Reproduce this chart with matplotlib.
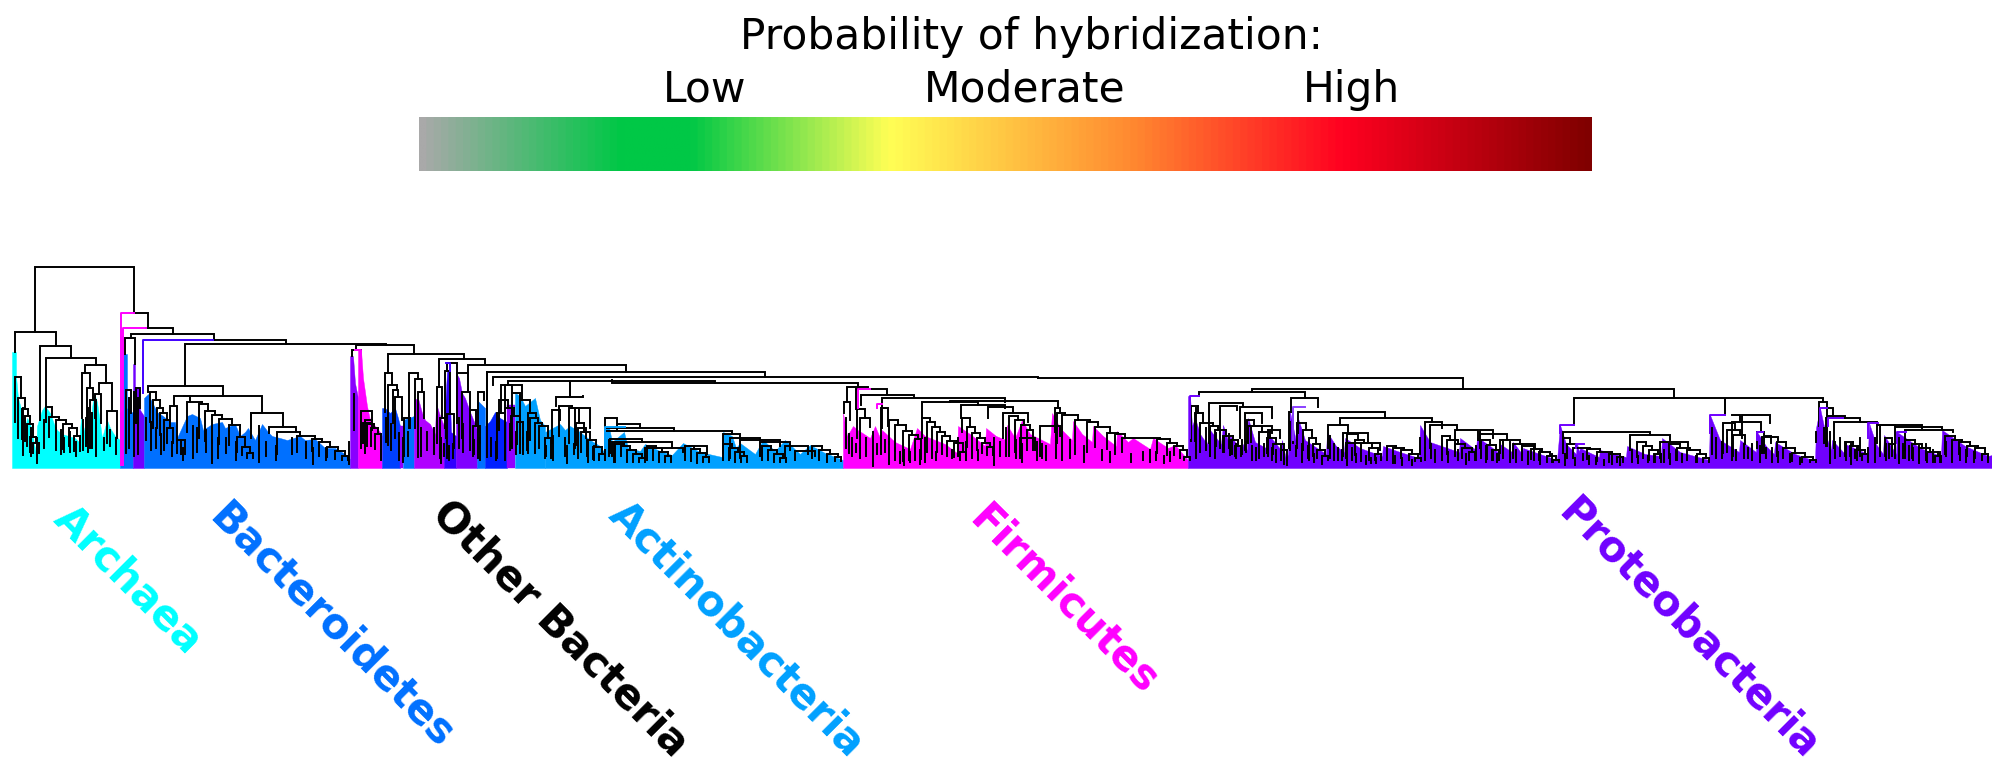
import matplotlib
matplotlib.use("Agg")
import matplotlib.pyplot as plt
from matplotlib.collections import LineCollection
from matplotlib.colors import LinearSegmentedColormap
import numpy as np

W, H = 1992, 765
BASE_PX = 468
TREE_TOP = 260
STUB = 3
LINE = 1.4

title = "Probability of hybridization:"
scale_labels = ["Low", "Moderate", "High"]
clade_labels = ["Archaea", "Bacteroidetes", "Other Bacteria", "Actinobacteria", "Firmicutes", "Proteobacteria"]
clade_colors = ["#00FFFF", "#0070FF", "#000000", "#00A0FF", "#FF00FF", "#7000FF"]

ramp_pos = [0.0, 0.17, 0.23, 0.40, 0.61, 0.79, 1.0]
ramp_col = ["#A9A9A9", "#00C846", "#00C846", "#FFFF55", "#FF8830", "#FF0020", "#800000"]

# (x, height) silhouettes of the coloured leaf mass
archaea = [(12,116),(16,116),(16,92),(18,70),(22,56),(24,34),(27,50),(30,45),(33,30),(36,14),(37,42),(42,58),(45,62),(50,55),(54,44),(57,38),(62,34),(75,30),(79,26),(81,50),(85,35),(90,26),(92,60),(94,75),(97,66),(100,45),(102,30),(107,48),(110,40),(115,32),(120,28)]
bact_a = [(120,55),(123,58),(123,114),(127,114),(127,60),(133,55)]
bact_v = [(133,104),(135,104),(135,60),(136,80),(139,80),(140,58),(144,52)]
bacteroidetes = [(144,70),(148,74),(152,66),(157,56),(163,52),(170,46),(175,46),(177,30),(187,52),(192,54),(200,50),(203,38),(212,44),(222,46),(225,40),(235,44),(240,32),(245,36),(248,40),(255,28),(262,44),(268,36),(272,32),(280,30),(287,28),(300,32),(305,28),(315,29),(325,20),(335,20),(345,14),(350,9)]
oth1 = [(350,112),(353,112),(355,85),(358,70)]
oth2 = [(358,118),(361,118),(363,90),(367,62),(370,48),(375,42),(380,36),(382,32)]
oth3 = [(382,60),(385,60),(390,55),(395,60),(398,50),(400,42)]
oth4 = [(400,42),(403,42)]
oth5 = [(403,48),(414,52)]
oth6 = [(414,68),(418,70),(422,55),(425,48),(430,44),(435,34),(436,65),(440,52),(444,42)]
oth7 = [(444,38),(447,97),(449,97),(451,36),(456,32)]
oth8 = [(456,95),(459,90),(462,75),(465,70),(470,56),(475,44),(477,38)]
oth9 = [(477,68),(485,60)]
oth10 = [(485,42),(490,47),(495,56),(500,50),(507,46)]
oth11 = [(507,63),(515,63)]
actino1 = [(515,75),(520,72),(525,62),(530,66),(535,70),(540,48),(545,42)]
actino2 = [(545,36),(560,44),(565,38),(570,42),(580,36),(590,28),(600,22),(604,16),(605,41),(609,41),(612,26),(624,36),(628,20),(640,17),(645,24),(660,17),(672,13),(683,25),(700,16),(722,11),(723,36),(732,32),(736,20),(740,25),(755,14),(763,28),(775,17),(785,28),(800,14),(810,23),(825,15),(843,8)]
firmicutes = [(843,55),(847,32),(853,42),(860,36),(861,36),(870,30),(875,42),(880,30),(882,38),(895,26),(910,19),(917,40),(925,32),(945,24),(957,15),(958,42),(970,34),(985,22),(986,40),(996,32),(1006,28),(1007,43),(1015,30),(1022,48),(1030,34),(1050,24),(1052,55),(1060,40),(1072,28),(1073,47),(1082,34),(1092,26),(1093,42),(1103,32),(1116,22),(1117,37),(1128,26),(1133,30),(1150,19),(1153,30),(1168,20),(1175,23),(1188,8)]
proteo = [(1188,72),(1190,72),(1192,42),(1195,50),(1200,34),(1207,24),(1210,38),(1221,24),(1223,43),(1229,24),(1230,32),(1242,18),(1243,24),(1247,18),(1248,50),(1255,26),(1266,20),(1268,34),(1281,18),(1282,28),(1286,8),(1288,14),(1290,56),(1296,26),(1297,53),(1305,28),(1326,14),(1327,36),(1336,22),(1344,16),(1345,30),(1360,20),(1382,12),(1383,22),(1400,16),(1419,10),(1420,43),(1430,26),(1459,16),(1460,30),(1476,18),(1477,31),(1490,22),(1499,15),(1500,24),(1512,16),(1513,26),(1522,14),(1523,20),(1557,8),(1560,43),(1566,24),(1576,14),(1577,25),(1579,16),(1580,20),(1599,11),(1600,18),(1626,11),(1627,22),(1645,14),(1661,12),(1662,30),(1680,16),(1709,8),(1710,53),(1720,28),(1739,16),(1740,28),(1756,16),(1757,36),(1766,22),(1774,14),(1775,26),(1795,14),(1815,7),(1816,40),(1820,60),(1826,32),(1831,18),(1832,28),(1844,15),(1845,24),(1868,14),(1869,45),(1876,24),(1883,14),(1884,33),(1896,14),(1897,36),(1920,20),(1941,12),(1942,38),(1965,22),(1988,12),(1992,13)]
silhouettes = [
    (archaea,"#00FFFF"),(bact_a,"#0070FF"),(bact_v,"#7000FF"),(bacteroidetes,"#0070FF"),
    (oth1,"#8A00FF"),(oth2,"#FF00FF"),(oth3,"#0040FF"),(oth4,"#9000FF"),(oth5,"#0070FF"),
    (oth6,"#B000FF"),(oth7,"#3000FF"),(oth8,"#8000FF"),(oth9,"#0070FF"),(oth10,"#0020FF"),
    (oth11,"#9000FF"),(actino1,"#00A0FF"),(actino2,"#00A0FF"),(firmicutes,"#FF00FF"),(proteo,"#7000FF"),
]

# dendrogram joins: left x, right x, join height, left child height, right child height
links_black = [
 (35,134,201,136,155),(15,56,136,116,122),(40,71,122,48,110),(46,96,110,61,103),(85,106,103,95,85),
 (82,90,95,50,80),(87,93,80,25,68),(99,112,85,74,57),(95,101,74,50,45),(107,117,57,25,30),(90,96,68,20,40),
 (134,148,155,155,140),(146,173,140,140,134),(131,214,134,130,128),(125,135,130,114,104),(213,286,128,128,124),
 (185,386,124,82,123),(148,223,82,76,72),(174,262,72,62,55),(170,177,62,40,28),(177,185,28,15,14),
 (126,131,78,15,55),(136,140,80,45,60),
 (184,190,72,72,66),(251,283,55,30,41),(269,296,41,35,36),(251,262,55,40,55),
 (356,414,123,118,114),(352,361,118,112,118),(361,372,57,20,48),(365,372,48,15,38),
 (388,464,114,95,109),(385,392,95,56,83),(388,397,83,23,78),(393,398,78,45,71),(395,402,71,30,48),
 (409,418,95,40,89),(415,422,89,40,76),(418,424,76,11,50),(404,410,50,12,40),
 (439,485,109,81,105),(437,442,81,25,50),(440,446,50,10,30),(447,457,105,97,95),(445,450,97,40,54),(447,454,54,10,20),
 (457,468,95,45,76),(462,470,76,30,58),(470,476,58,18,42),(473,480,42,12,25),
 (468,626,103,76,96),(478,484,76,10,68),(487,765,96,11,91),(493,1038,91,83,90),(501,522,83,55,68),(497,505,55,10,46),
 (508,715,87,83,85),(505,512,83,40,75),(512,520,75,20,68),(520,530,68,15,55),(528,536,55,15,50),
 (556,583,71,62,72),(570,570,87,71,71),(552,560,58,25,48),(575,590,60,20,40),(578,586,40,10,30),
 (612,858,85,88,81),(605,617,50,30,45),(617,640,44,38,40),(605,674,40,38,37),(605,732,37,30,34),(723,740,34,15,28),
 (610,642,29,15,26),(612,672,26,12,20),(645,683,20,10,16),(685,707,22,12,14),
 (730,760,30,10,28),(740,780,28,10,22),(760,790,26,12,18),(785,808,22,10,14),(795,815,17,8,12),
 (1038,1463,90,90,79),(844,850,66,55,48),(847,868,81,66,79),(856,887,79,59,73),
 (857,865,59,30,50),(860,870,50,20,41),(861,914,73,63,71),(882,1005,70,40,66),(881,888,60,20,42),
 (922,978,66,50,63),(950,1058,67,66,60),(961,1005,63,50,60),
 (988,1013,61,50,55),(1003,1028,55,30,46),(1040,1060,42,12,32),(1020,1035,30,10,18),
 (1252,1674,79,76,70),(1199,1305,76,72,70),(1209,1243,65,25,62),(1220,1237,62,20,58),(1240,1272,61,30,50),
 (1245,1262,55,18,45),(1248,1272,42,25,35),(1268,1280,38,12,30),(1291,1318,70,56,61),(1289,1293,56,20,25),
 (1298,1385,56,35,50),(1340,1432,50,43,46),(1328,1348,43,20,36),(1343,1368,35,12,26),(1346,1380,25,10,18),
 (1425,1442,46,20,40),(1430,1457,43,20,38),(1455,1478,38,16,28),
 (1574,1823,70,43,66),(1725,1725,70,53,53),(1563,1650,36,15,33),(1630,1670,33,18,28),(1660,1688,26,10,22),
 (1480,1493,38,20,30),(1480,1507,34,20,28),(1500,1520,28,15,24),(1513,1535,24,10,20),
 (1723,1735,45,15,38),(1727,1740,38,20,33),(1733,1745,33,12,24),(1742,1770,53,30,45),
 (1732,1740,53,53,46),(1732,1761,46,25,36),(1757,1764,36,20,32),(1764,1771,32,15,25),(1762,1778,31,15,26),
 (1819,1827,66,42,60),(1827,1833,60,50,52),(1827,1845,52,22,50),(1826,1860,50,22,46),(1834,1877,46,20,42),
 (1877,1895,43,25,42),(1880,1922,43,15,40),(1895,1942,41,18,38),(1905,1953,38,18,36),
]

links_color = [
 (121,134,155,3,155,"#FF00FF"),(123,146,140,3,140,"#FF00FF"),(143,213,128,75,128,"#4000FF"),
 (355,361,118,118,80,"#FF00FF"),(446,450,105,105,97,"#4000FF"),(605,625,41,20,41,"#00A0FF"),
 (858,870,79,60,79,"#FF00FF"),(877,882,64,60,64,"#FF00FF"),(1190,1199,72,30,72,"#7000FF"),
 (1293,1305,61,28,61,"#8A40FF"),(1560,1574,43,35,43,"#7000FF"),(1576,1584,24,20,24,"#7000FF"),
 (1710,1725,53,35,53,"#7000FF"),(1820,1827,60,30,60,"#7000FF"),(1757,1763,36,28,36,"#7000FF"),
 (1868,1878,45,30,45,"#7000FF"),(1897,1906,36,25,36,"#7000FF"),(1828,1843,50,42,50,"#7000FF"),
]

# staircases that run down each clade: connection x, node height, drop of the node's left stem
ladders = [
 [(18,91,45),(21,70,40),(25,59,30),(28,52,25),(30,44,22),(33,31,15),(36,25,10)],
 [(49,61,15),(52,51,20),(59,48,18),(66,44,25),(72,40,18),(77,32,15)],
 [(153,76,30),(156,68,28),(160,60,20),(163,55,22),(167,48,30),(170,40,15)],
 [(190,66,30),(202,64,34),(208,57,30),(215,53,28),(222,49,25),(232,43,20),(240,31,15),(245,21,8),(250,15,5)],
 [(280,36,22),(300,32,16),(315,29,12),(322,26,14),(330,21,10),(338,17,8),(345,12,4)],
 [(366,45,20),(370,44,22),(374,40,18),(378,34,15)],
 [(502,68,30),(508,60,34),(514,52,30),(520,46,22)],
 [(533,50,22),(538,45,30),(542,42,22),(548,30,20)],
 [(562,62,30),(572,60,35),(579,45,22),(584,36,20),(590,28,16),(596,21,12),(602,14,6)],
 [(618,24,18),(624,22,10),(630,18,12),(636,14,8),(642,10,4)],
 [(650,22,14),(656,20,12),(662,16,10),(668,12,6)],
 [(688,22,14),(694,19,12),(700,15,10),(706,11,5)],
 [(726,24,16),(732,20,12),(738,16,10),(744,12,6)],
 [(765,22,14),(771,18,10),(777,14,8),(783,10,4)],
 [(815,22,12),(822,18,10),(830,14,8),(838,11,4)],
 [(892,48,24),(898,43,26),(906,37,30),(912,33,25),(918,29,20)],
 [(925,50,20),(930,46,30),(935,41,22),(940,36,20),(945,32,18),(950,27,15),(957,25,14),(963,16,8)],
 [(965,50,14),(970,41,20),(975,35,14),(980,30,12),(985,25,10),(990,21,8)],
 [(1012,52,40),(1018,48,32),(1024,43,30),(1030,38,20)],
 [(1058,60,24),(1060,55,30),(1065,53,22),(1078,48,22),(1090,46,30),(1098,41,20),(1110,35,16),(1118,34,20),(1125,30,14),(1160,29,14),(1170,25,12),(1177,22,9),(1183,18,8),(1187,11,3)],
 [(1194,62,35),(1198,55,28),(1203,45,18),(1213,42,30),(1218,38,28),(1226,32,16),(1233,28,15),(1238,22,10)],
 [(1250,48,22),(1254,42,16),(1262,36,14),(1270,30,15),(1276,24,10),(1284,18,10)],
 [(1300,45,25),(1306,38,20),(1312,30,22),(1316,24,12),(1320,18,8),(1325,12,4)],
 [(1350,34,16),(1358,28,15),(1364,25,14),(1372,20,12),(1378,14,6)],
 [(1390,22,14),(1396,20,15),(1404,18,8),(1412,14,6),(1418,10,3)],
 [(1445,32,18),(1450,28,14),(1458,24,12),(1465,20,10),(1472,16,8)],
 [(1484,28,18),(1490,23,14),(1496,18,10)],
 [(1525,22,14),(1534,19,10),(1542,16,8),(1550,12,6),(1556,8,2)],
 [(1566,30,15),(1570,24,14),(1576,20,10),(1590,19,10),(1600,16,9),(1612,14,8),(1620,11,5)],
 [(1640,26,15),(1646,22,12),(1652,18,10),(1658,14,8)],
 [(1672,24,14),(1680,20,12),(1690,18,10),(1700,14,8),(1706,10,4)],
 [(1780,26,14),(1786,20,10),(1795,15,8),(1805,11,5),(1813,8,2)],
 [(1848,26,14),(1853,22,10),(1858,18,8),(1865,14,6)],
 [(1888,30,18),(1892,24,14)],
 [(1908,28,18),(1915,24,14),(1922,20,12),(1930,16,10),(1938,12,6)],
 [(1948,32,18),(1955,28,14),(1962,26,12),(1970,22,10),(1978,20,10),(1985,14,6)],
]

# the densest hanging leaf stems: x, upper height, lower height
stems = [
 (23,60,13),(31,40,12),(37,30,5),(44,48,20),(56,40,18),(61,38,14),(64,30,16),(70,36,16),(76,26,12),(83,48,18),(86,50,22),(88,60,16),(92,55,20),(96,45,12),(104,30,18),(110,38,22),(116,30,14),
 (129,70,20),(134,76,12),(138,70,14),(146,50,28),(151,46,18),(156,40,20),(161,34,14),(172,26,12),(181,28,14),(183,20,8),(193,42,10),(197,40,16),(206,38,16),(212,28,5),(218,30,10),(226,30,15),(236,26,8),(259,42,6),(266,26,12),(276,22,8),(292,30,14),(306,26,10),(313,20,4),(326,20,8),
 (349,26,4),(354,74,38),(381,18,8),(386,50,26),(391,44,18),(399,35,8),(403,30,6),(408,36,12),(421,40,12),(427,36,18),(434,40,14),(441,30,5),(444,24,12),(449,22,8),(453,24,10),(459,50,20),(463,44,16),(474,28,14),(480,30,8),(487,96,11),(491,30,12),(496,26,8),(505,40,8),(510,44,18),(516,36,14),(523,30,14),(527,36,18),(546,22,12),(553,32,8),(565,30,12),(567,22,5),(574,24,14),(588,26,6),(594,22,8),(605,34,8),(609,28,12),(614,24,6),
 (846,50,20),(849,34,15),(852,30,12),(856,24,16),(860,20,10),(866,30,12),(873,36,2),(877,24,14),(881,32,14),(885,28,16),(889,26,4),(895,20,8),(900,16,5),(904,18,3),(910,16,6),(915,20,8),(920,18,4),(925,30,6),(932,22,10),(936,16,8),(952,18,10),(958,30,12),(966,26,8),(972,22,10),(978,18,8),(994,30,3),(1000,26,12),(1006,40,12),(1016,28,10),(1022,24,6),(1037,26,8),(1042,24,10),(1046,22,8),(1056,40,10),(1062,34,8),(1070,28,10),(1075,24,14),(1084,22,6),(1102,18,8),(1110,16,6),(1131,14,6),(1143,16,8),(1150,18,6),(1156,16,8),(1164,12,5),(1170,16,7),
 (1196,60,10),(1200,45,16),(1206,40,18),(1210,40,12),(1216,35,22),(1224,30,16),(1229,34,20),(1232,28,14),(1236,24,10),(1242,28,14),(1246,26,16),(1252,22,8),(1256,20,8),(1259,30,10),(1264,24,12),(1268,28,12),(1272,20,8),(1276,18,6),(1281,22,10),(1284,16,4),(1287,10,3),(1290,46,18),(1296,22,12),(1302,24,6),(1308,22,10),(1314,14,6),(1322,12,4),(1330,32,10),(1334,24,8),(1338,20,8),(1342,18,8),(1347,16,3),(1352,20,8),(1356,14,6),(1361,12,7),(1366,12,4),(1371,10,5),(1376,10,5),
 (1395,12,5),(1402,10,3),(1412,8,3),(1420,30,14),(1425,20,8),(1431,24,10),(1435,18,6),(1442,24,8),(1448,16,6),(1458,18,8),(1466,14,4),(1476,22,8),(1486,22,6),(1492,18,8),(1497,14,6),(1503,28,10),(1510,26,6),(1516,18,6),(1522,24,8),(1528,16,4),(1534,22,8),(1540,18,4),(1552,14,6),(1565,14,3),(1575,10,3),(1583,14,8),(1589,12,4),(1596,10,4),(1604,8,3),(1612,12,4),(1620,10,3),(1632,18,6),(1638,12,5),(1648,12,6),(1654,14,6),(1664,18,6),(1670,14,4),(1676,18,8),(1682,14,6),(1696,12,6),
 (1712,40,14),(1716,30,10),(1722,26,10),(1727,30,16),(1732,24,8),(1736,18,8),(1744,24,10),(1748,20,10),(1752,24,8),(1760,22,6),(1766,20,10),(1772,20,6),(1778,16,6),(1790,14,6),(1800,10,4),(1816,36,26),(1824,40,25),(1830,36,5),(1835,26,10),(1840,30,12),(1846,26,8),(1851,24,4),(1857,20,8),(1860,30,12),(1868,20,6),(1875,30,6),(1880,26,12),(1886,24,8),(1892,26,12),(1899,30,5),(1903,24,10),(1909,22,8),(1913,20,8),(1919,22,5),(1926,24,8),(1933,18,6),(1940,16,6),(1946,26,12),(1952,22,6),(1960,20,8),(1966,18,6),(1974,16,6),(1982,14,8),(1988,12,6),
]

fig = plt.figure(figsize=(W / 100, H / 100), dpi=100, facecolor="white")
ax = fig.add_axes([0, 1 - BASE_PX / H, 1, TREE_TOP / H])
ax.set_xlim(0, W)
ax.set_ylim(0, TREE_TOP)
ax.axis("off")

for profile, colour in silhouettes:
    xs, hs = zip(*profile)
    ax.fill_between(xs, hs, 0, color=colour, lw=0.3, zorder=1)

segs = []
for x1, x2, h, hl, hr in links_black:
    segs.append([(x1, hl), (x1, h), (x2, h), (x2, hr)])
for ladder in ladders:
    for i, (x, h, drop) in enumerate(ladder):
        left = x - STUB
        right = ladder[i + 1][0] if i + 1 < len(ladder) else x + STUB
        segs.append([(left, h - drop), (left, h), (right, h)])
        if i + 1 < len(ladder):
            segs.append([(right, h), (right, ladder[i + 1][1])])
        else:
            segs.append([(right, h), (right, h - drop)])
for x, top, bottom in stems:
    segs.append([(x, top), (x, bottom)])
ax.add_collection(LineCollection(segs, colors="black", linewidths=LINE, capstyle="projecting", joinstyle="miter", zorder=3))

for x1, x2, h, hl, hr, colour in links_color:
    ax.plot([x1, x1, x2, x2], [hl, h, h, hr], color=colour, lw=LINE, zorder=4)

cax = fig.add_axes([419 / W, 1 - 171 / H, (1592 - 419) / W, 54 / H])
cmap = LinearSegmentedColormap.from_list("hyb", list(zip(ramp_pos, ramp_col)), N=160)
cax.imshow(np.linspace(0, 1, 800)[None, :], aspect="auto", cmap=cmap)
cax.axis("off")

fig.text(1031 / W, 1 - 37 / H, title, ha="center", va="center", fontsize=30.5, color="black")
for label, px in zip(scale_labels, [705, 1025, 1351]):
    fig.text(px / W, 1 - 90 / H, label, ha="center", va="center", fontsize=30.5, color="black")

label_centres = [(128, 580), (331, 626), (560, 629), (737, 629), (1064, 600), (1689, 629)]
for label, colour, (cx, cy) in zip(clade_labels, clade_colors, label_centres):
    fig.text(cx / W, 1 - cy / H, label, ha="center", va="center", rotation=-45,
             rotation_mode="anchor", fontsize=30, fontweight="bold", color=colour)

fig.savefig("out.png", dpi=100, facecolor="white")
